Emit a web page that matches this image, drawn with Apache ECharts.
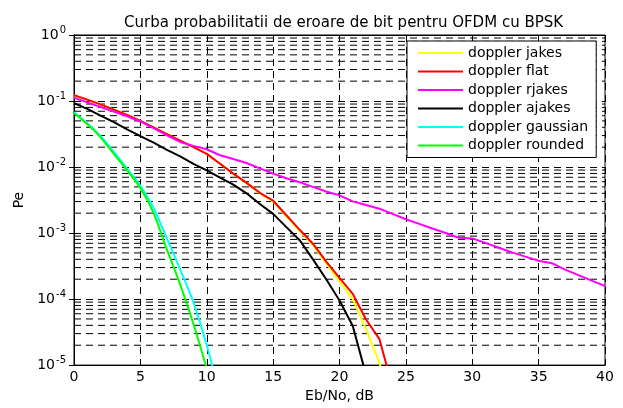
<!DOCTYPE html>
<html>
<head>
<meta charset="utf-8">
<title>Curba probabilitatii de eroare de bit</title>
<script src="https://cdn.jsdelivr.net/npm/echarts@6/dist/echarts.min.js"></script>
<style>
  html, body { margin: 0; padding: 0; background: #fff; }
  #main { width: 623px; height: 408px; }
</style>
</head>
<body>
<div id="main"></div>
<script>
// Eb/No in dB for each series
var ebnoJakes = [0, 1, 2, 3, 4, 5, 6, 7, 8, 9, 10, 11, 12, 13, 14, 15, 16, 17, 18, 19, 20, 21, 22, 23, 24]
var peJakes = [0.122, 0.104, 0.0885, 0.0738, 0.0615, 0.0500, 0.0398, 0.0316, 0.0251, 0.0200, 0.0158, 0.0112, 0.0079, 0.0057, 0.0040, 0.0030, 0.00180, 0.00108, 6.6e-4, 3.5e-4, 1.86e-4, 1.0e-4, 3.5e-5, 1.1e-5, 2.5e-6]

var ebnoFlat = [0, 1, 2, 3, 4, 5, 6, 7, 8, 9, 10, 11, 12, 13, 14, 15, 16, 17, 18, 19, 20, 21, 22, 23, 24]
var peFlat = [0.123, 0.105, 0.0891, 0.0741, 0.0617, 0.0501, 0.0398, 0.0316, 0.0251, 0.0200, 0.0158, 0.0112, 0.00794, 0.00575, 0.00407, 0.00309, 0.00186, 0.00112, 6.9e-4, 3.7e-4, 2.1e-4, 1.2e-4, 4.9e-5, 2.5e-5, 4.6e-6]

var ebnoRjakes = [0, 1, 2, 3, 4, 5, 6, 7, 8, 9, 10, 11, 12, 13, 14, 15, 16, 17, 18, 19, 20, 21, 22, 23, 24, 25, 26, 27, 28, 29, 30, 31, 32, 33, 34, 35, 36, 37, 38, 39, 40]
var peRjakes = [0.112, 0.0955, 0.0813, 0.0692, 0.0589, 0.0490, 0.0389, 0.0302, 0.0240, 0.0209, 0.0186, 0.0151, 0.0132, 0.0115, 0.00955, 0.00794, 0.00676, 0.00589, 0.00501, 0.00427, 0.00372, 0.00302, 0.00266, 0.00234, 0.00195, 0.00162, 0.00138, 0.00117, 0.00100, 8.5e-4, 8.3e-4, 7.1e-4, 6.0e-4, 5.1e-4, 4.4e-4, 3.8e-4, 3.5e-4, 2.8e-4, 2.3e-4, 1.9e-4, 1.58e-4]

var ebnoAjakes = [0, 1, 2, 3, 4, 5, 6, 7, 8, 9, 10, 11, 12, 13, 14, 15, 16, 17, 18, 19, 20, 21, 22]
var peAjakes = [0.093, 0.0759, 0.0603, 0.0479, 0.0372, 0.0295, 0.0234, 0.0182, 0.0145, 0.0112, 0.0089, 0.0069, 0.0054, 0.0040, 0.00275, 0.00195, 0.00123, 7.8e-4, 4.0e-4, 2.0e-4, 9.5e-5, 3.9e-5, 7.1e-6]

var ebnoGaussian = [0, 1, 2, 3, 4, 5, 6, 7, 8, 9, 10, 11]
var peGaussian = [0.0676, 0.0457, 0.0295, 0.0170, 0.0095, 0.0052, 0.0024, 8.3e-4, 2.8e-4, 8.9e-5, 2.0e-5, 3.5e-6]

var ebnoRounded = [0, 1, 2, 3, 4, 5, 6, 7, 8, 9, 10]
var peRounded = [0.066, 0.0447, 0.0282, 0.0158, 0.0089, 0.0048, 0.0020, 5.6e-4, 1.66e-4, 4.2e-5, 8.9e-6]

var seriesNames = ['doppler jakes', 'doppler flat', 'doppler rjakes', 'doppler ajakes', 'doppler gaussian', 'doppler rounded']
var seriesColors = ['#ffff00', '#ff0000', '#ff00ff', '#000000', '#00ffff', '#00ff00']
var seriesSmooth = [false, false, false, false, 0.25, 0.25]

// log grid: decades and the 2..9 multiples between them
var decades = [1e-5, 1e-4, 1e-3, 1e-2, 1e-1]
var multiples = [2, 3, 4, 5, 6, 7, 8, 9]

var FONT = 'DejaVu Sans'

function pairs (xs, ys) {
  var out = []
  for (var i = 0; i < xs.length; i++) out.push([xs[i], ys[i]])
  return out
}

var allX = [ebnoJakes, ebnoFlat, ebnoRjakes, ebnoAjakes, ebnoGaussian, ebnoRounded]
var allY = [peJakes, peFlat, peRjakes, peAjakes, peGaussian, peRounded]

var gridDash = { color: '#000', width: 1, type: [7, 5] }

var series = []
// minor horizontal grid lines (2..9 x 10^k), drawn across the x range
decades.forEach(function (d) {
  multiples.forEach(function (m) {
    series.push({
      name: 'grid',
      type: 'line',
      silent: true,
      symbol: 'none',
      z: 1,
      lineStyle: gridDash,
      emphasis: { disabled: true },
      data: [[0, d * m], [40, d * m]]
    })
  })
})
seriesNames.forEach(function (name, i) {
  series.push({
    name: name,
    type: 'line',
    data: pairs(allX[i], allY[i]),
    showSymbol: false,
    symbol: 'none',
    smooth: seriesSmooth[i],
    clip: true,
    z: 3,
    lineStyle: { color: seriesColors[i], width: 2 },
    itemStyle: { color: seriesColors[i] }
  })
})

function expLabel (v) {
  var e = Math.round(Math.log10(v))
  return '{b|10}{s|' + e + '}'
}

var option = {
  animation: false,
  backgroundColor: '#fff',
  title: {
    text: 'Curba probabilitatii de eroare de bit pentru OFDM cu BPSK',
    left: 119,
    top: 11,
    textStyle: { fontFamily: FONT, fontSize: 15, fontWeight: 'normal', color: '#000' }
  },
  grid: {
    left: 74,
    right: 18,
    top: 35,
    bottom: 35,
    show: true,
    borderColor: '#000',
    borderWidth: 1
  },
  legend: {
    data: seriesNames,
    orient: 'vertical',
    left: 407,
    top: 41,
    backgroundColor: '#fff',
    borderColor: '#000',
    borderWidth: 1,
    borderRadius: 0,
    padding: [5, 8, 5, 11],
    itemWidth: 45,
    itemHeight: 2,
    itemGap: 4.5,
    icon: 'rect',
    textStyle: { fontFamily: FONT, fontSize: 14, color: '#000', width: 124, overflow: 'none' }
  },
  xAxis: [{
    type: 'value',
    min: 0,
    max: 40,
    interval: 5,
    name: 'Eb/No, dB',
    nameLocation: 'middle',
    nameGap: 21,
    nameTextStyle: { fontFamily: FONT, fontSize: 14, color: '#000' },
    axisLine: { lineStyle: { color: '#000' } },
    axisTick: { inside: true, length: 5, lineStyle: { color: '#000' } },
    axisLabel: { fontFamily: FONT, fontSize: 14, color: '#000', margin: 5 },
    splitLine: { show: true, lineStyle: gridDash }
  }, {
    type: 'value',
    position: 'top',
    min: 0,
    max: 40,
    interval: 5,
    axisLine: { lineStyle: { color: '#000' } },
    axisTick: { inside: true, length: 5, lineStyle: { color: '#000' } },
    axisLabel: { show: false },
    splitLine: { show: false }
  }],
  yAxis: [{
    type: 'log',
    logBase: 10,
    min: 1e-5,
    max: 1,
    name: 'Pe',
    nameLocation: 'middle',
    nameGap: 44,
    nameTextStyle: { fontFamily: FONT, fontSize: 14, color: '#000' },
    axisLine: { lineStyle: { color: '#000' } },
    axisTick: { inside: true, length: 5, lineStyle: { color: '#000' } },
    axisLabel: {
      margin: 8,
      formatter: expLabel,
      rich: {
        b: { fontFamily: FONT, fontSize: 14, color: '#000' },
        s: { fontFamily: FONT, fontSize: 10, color: '#000', verticalAlign: 'bottom', padding: [0, 0, 9, 1] }
      }
    },
    splitLine: { show: true, lineStyle: gridDash }
  }, {
    type: 'log',
    logBase: 10,
    min: 1e-5,
    max: 1,
    position: 'right',
    axisLine: { lineStyle: { color: '#000' } },
    axisTick: { inside: true, length: 5, lineStyle: { color: '#000' } },
    axisLabel: { show: false },
    splitLine: { show: false }
  }],
  series: series
}

var myChart = echarts.init(document.getElementById('main'))
myChart.setOption(option)
</script>
</body>
</html>
